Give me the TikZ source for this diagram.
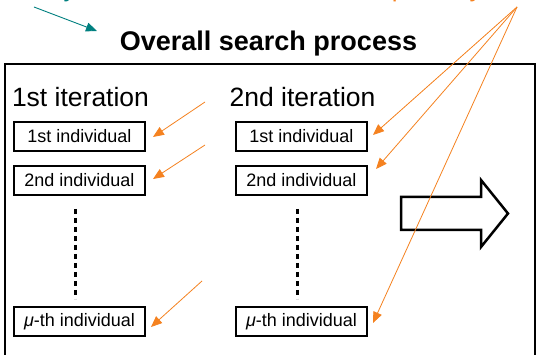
\documentclass[tikz,border=0pt]{standalone}
\usepackage{fontspec}
\setmainfont{Liberation Sans}
\usetikzlibrary{arrows.meta}
\definecolor{orng}{RGB}{245,130,32}
\definecolor{tealc}{RGB}{0,128,128}
\begin{document}
\begin{tikzpicture}[x=1pt,y=-1pt,
  indiv/.style={draw,line width=2pt,minimum width=131pt,minimum height=29pt,inner sep=0pt,font=\fontsize{18}{20}\selectfont},
  iter/.style={anchor=base,font=\fontsize{26.5}{30}\selectfont,inner sep=0pt},
  oarrow/.style={draw=orng,line width=0.8pt,-{Triangle[length=11pt,width=9pt]}},
  tarrow/.style={draw=tealc,line width=0.9pt,-{Triangle[length=11pt,width=9pt]}},
  dotline/.style={line width=3pt,dash pattern=on 5pt off 4pt}]
\useasboundingbox (0,0) rectangle (536,355);
\fill[white] (0,0) rectangle (536,355);
\clip (0,0) rectangle (536,355);
% fragments of text above the visible area
\node[anchor=base,inner sep=0pt,text=tealc,font=\fontsize{26}{30}\selectfont] (ty) at (70,-3) {y};
\node[anchor=base,inner sep=0pt,text=orng,font=\fontsize{26}{30}\selectfont] (op) at (399,-3.5) {p};
\node[anchor=base,inner sep=0pt,text=orng,font=\fontsize{26}{30}\selectfont] (oy) at (476,-3.5) {y};
% outer frame
\draw[line width=2pt] (5,64) rectangle (534.5,380);
% title
\node[anchor=base,inner sep=0pt,font=\bfseries\fontsize{27}{30}\selectfont] (title) at (268.5,51) {Overall search process};
% iteration labels
\node[iter] (it1) at (80.5,107) {1st iteration};
\node[iter] (it2) at (302.5,107) {2nd iteration};
% individuals
\node[indiv] (a1) at (79.5,136.5) {1st individual};
\node[indiv] (a2) at (79.5,180.5) {2nd individual};
\node[indiv] (a3) at (79.5,321.5) {{\itshape μ}-th individual};
\node[indiv] (b1) at (301.5,136.5) {1st individual};
\node[indiv] (b2) at (301.5,180.5) {2nd individual};
\node[indiv] (b3) at (301.5,321.5) {{\itshape μ}-th individual};
% dotted lines
\coordinate (d1t) at (75,209);
\coordinate (d1b) at (75,299);
\coordinate (d2t) at (297,209);
\coordinate (d2b) at (297,299);
\draw[dotline] (d1t) -- (d1b);
\draw[dotline] (d2t) -- (d2b);
% big arrow
\draw[line width=2.5pt,line join=miter] (401,197) -- (481,197) -- (481,180) -- (508,213.5) -- (481,247) -- (481,230) -- (401,230) -- cycle;
% teal arrow
\coordinate (ts) at (34,7);
\coordinate (te) at (97,31);
\draw[tarrow] (ts) -- (te);
% orange arrows, left column
\coordinate (l1s) at (205,102);
\coordinate (l1e) at (153,137);
\coordinate (l2s) at (205,145);
\coordinate (l2e) at (153,179);
\coordinate (l3s) at (202,281);
\coordinate (l3e) at (151,327);
\draw[oarrow] (l1s) -- (l1e);
\draw[oarrow] (l2s) -- (l2e);
\draw[oarrow] (l3s) -- (l3e);
% orange arrows, right column
\coordinate (src) at (517,7);
\coordinate (r1e) at (373,135);
\coordinate (r2e) at (376,169);
\coordinate (r3e) at (373,323);
\draw[oarrow] (src) -- (r1e);
\draw[oarrow] (src) -- (r2e);
\draw[oarrow] (src) -- (r3e);
\end{tikzpicture}
\end{document}
